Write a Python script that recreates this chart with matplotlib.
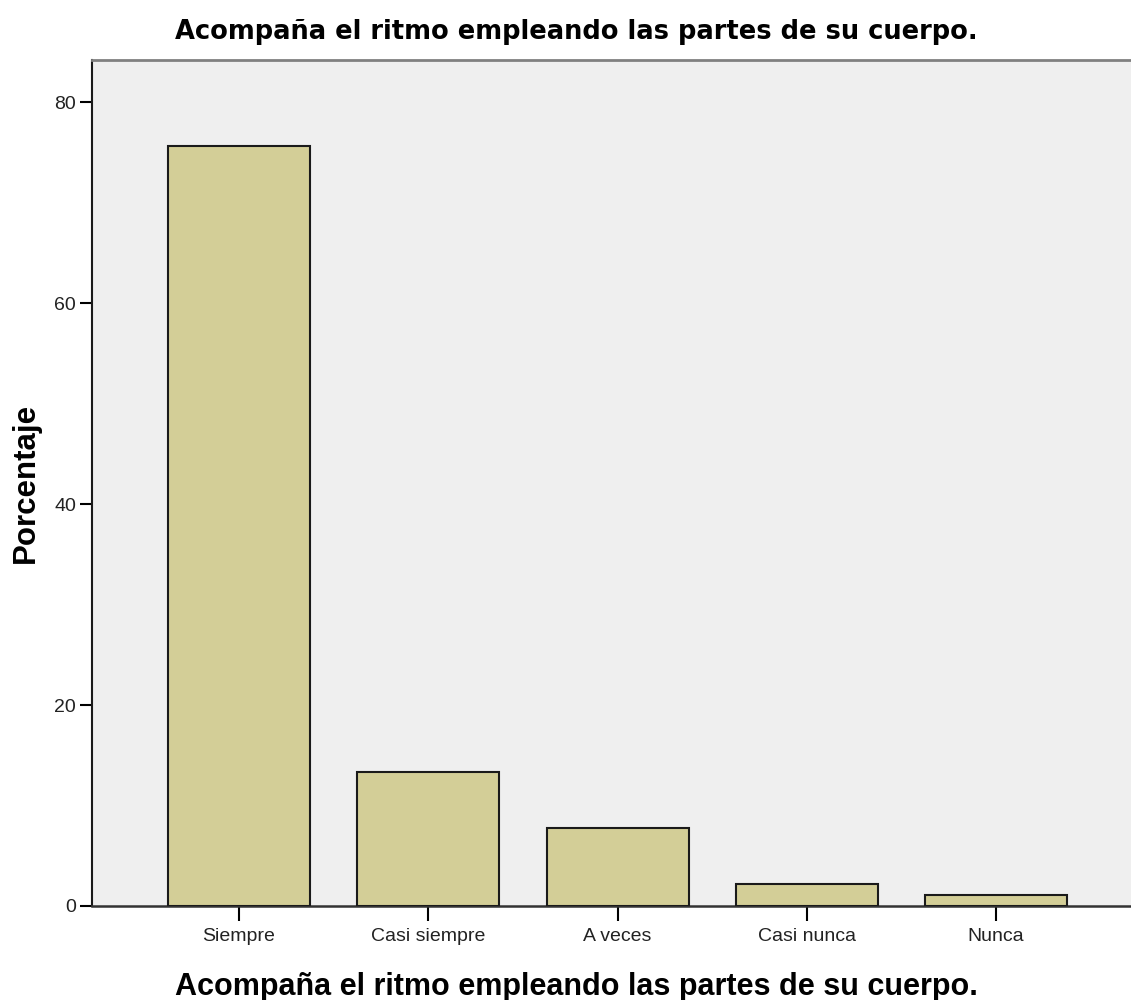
import matplotlib
matplotlib.use("Agg")
import matplotlib.pyplot as plt

categories = ["Siempre", "Casi siempre", "A veces", "Casi nunca", "Nunca"]
percentages = [75.6, 13.3, 7.8, 2.2, 1.1]
yticks = [0, 20, 40, 60, 80]
title = "Acompaña el ritmo empleando las partes de su cuerpo."

plt.rcParams['font.family'] = ['Liberation Sans', 'DejaVu Sans']

fig = plt.figure(figsize=(11.31, 10.0), dpi=100)
ax = fig.add_axes([92/1131, 1-906/1000, 1-92/1131, (906-60)/1000])
ax.set_facecolor('#EFEFEF')

x = list(range(len(categories)))
ax.bar(x, percentages, width=0.75, color='#D3CE97', edgecolor='#1a1a1a', linewidth=1.5, zorder=3)

ax.set_xlim(-0.777, 4.713)
ax.set_ylim(0, 84.2)
ax.set_xticks(x)
ax.set_xticklabels(categories, fontsize=14, color='#222222')
ax.set_yticks(yticks)
ax.set_yticklabels([str(v) for v in yticks], fontsize=14, color='#222222')
ax.tick_params(axis='x', length=10.8, width=1.5, pad=5)
ax.tick_params(axis='y', length=8.6, width=1.5, pad=3)

ax.spines['right'].set_visible(False)
ax.spines['top'].set_color('#808080')
ax.spines['top'].set_linewidth(2)
ax.spines['left'].set_color('#1a1a1a')
ax.spines['left'].set_linewidth(1.5)
ax.spines['bottom'].set_color('#333333')
ax.spines['bottom'].set_linewidth(1.8)

fig.text(576/1131, 1-39/1000, title, fontsize=18.5, fontweight='bold',
         family=['DejaVu Sans'], ha='center', va='baseline')
fig.text(576/1131, 1-995/1000, title, fontsize=22, fontweight='bold',
         ha='center', va='baseline')
fig.text(34/1131, 1-483/1000, "Porcentaje", fontsize=22.5, fontweight='bold',
         rotation=90, ha='center', va='baseline', rotation_mode='anchor')

fig.savefig("out.png", dpi=100)
